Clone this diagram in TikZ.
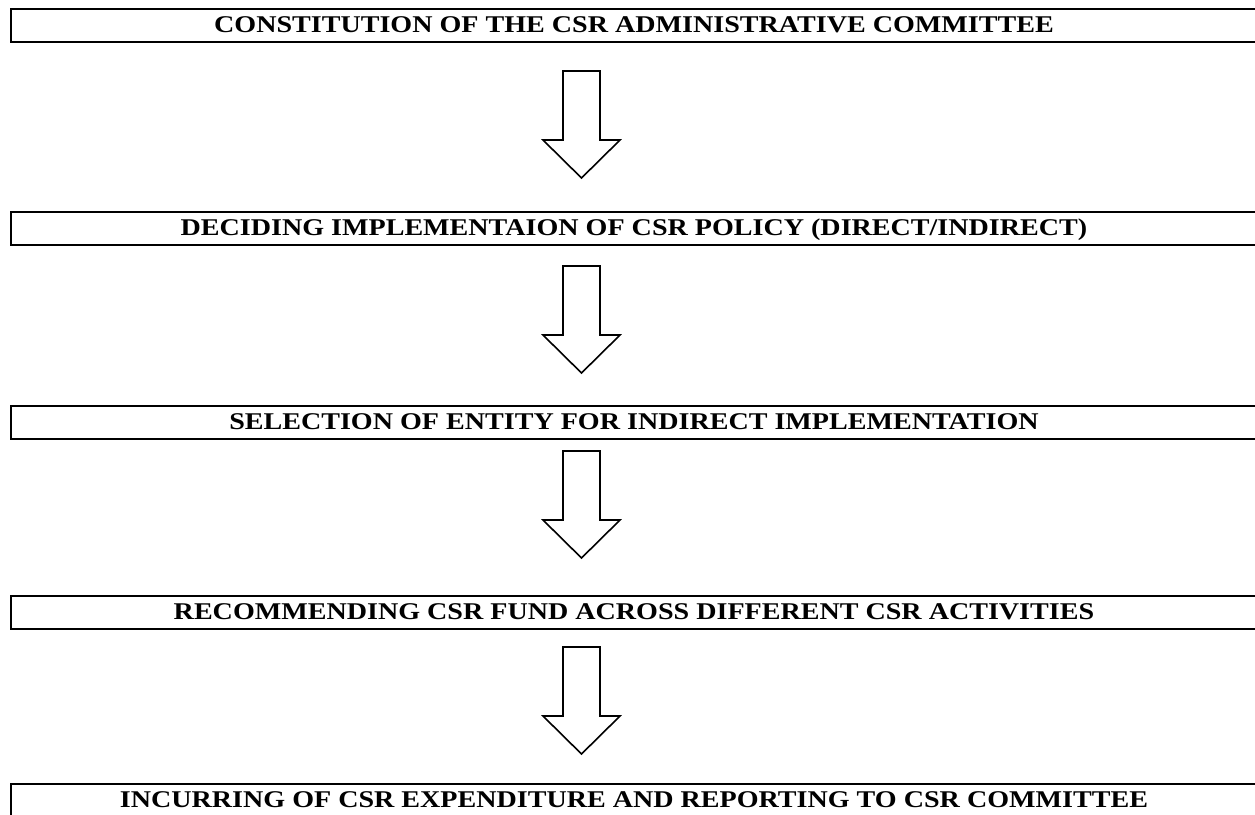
\documentclass[tikz,border=0pt]{standalone}
\usepackage{fontspec}
\setmainfont{Liberation Serif}[FakeStretch=1.17]
\usetikzlibrary{positioning}

\begin{document}
\begin{tikzpicture}[
		x=0.5pt, y=-0.5pt,
		every node/.style={font=\fontsize{12}{14}\selectfont\bfseries},
		stagebox/.style={draw, line width=1pt, anchor=west, inner sep=0pt, minimum width=623pt, minimum height=16.5pt, text height=9pt, text depth=2pt},
		flowarrow/.pic={\draw[line width=0.8pt, line join=miter] (-18.5,0) -- (-18.5,69) -- (-38.5,69) -- (0,107) -- (38.5,69) -- (18.5,69) -- (18.5,0) -- cycle;}
		]
		\useasboundingbox (0,0) rectangle (1255,815);
		
		\node[stagebox] (constitution) at (10,25.5) {CONSTITUTION OF THE CSR ADMINISTRATIVE COMMITTEE};
		\node[stagebox] (deciding) at (10,228.5) {DECIDING IMPLEMENTAION OF CSR POLICY (DIRECT/INDIRECT)};
		\node[stagebox] (selection) at (10,422) {SELECTION OF ENTITY FOR INDIRECT IMPLEMENTATION};
		\node[stagebox] (recommending) at (10,612.5) {RECOMMENDING CSR FUND ACROSS DIFFERENT CSR ACTIVITIES};
		\node[stagebox] (incurring) at (10,800.5) {INCURRING OF CSR EXPENDITURE AND REPORTING TO CSR COMMITTEE};
		
		\pic at (581.5,71) {flowarrow};
		\pic at (581.5,266) {flowarrow};
		\pic at (581.5,451) {flowarrow};
		\pic at (581.5,647) {flowarrow};
		
	\end{tikzpicture}
\end{document}
